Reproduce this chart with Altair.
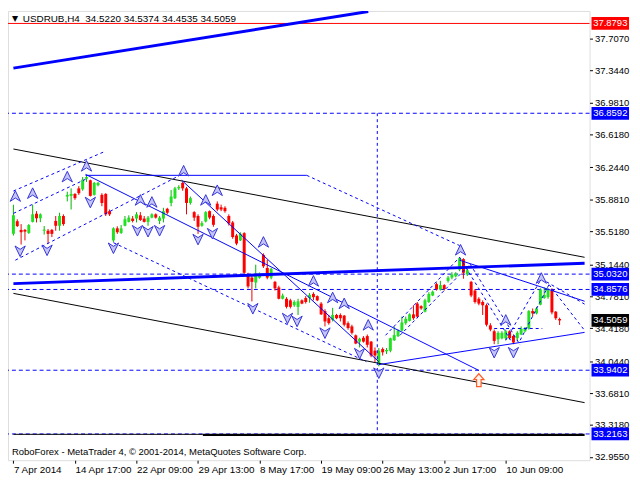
import json
import numpy as np
import pandas as pd
import altair as alt

# ---------------- data ----------------
opens = [35.49, 35.633, 35.534, 35.534, 35.500, 35.625, 35.718, 35.666, 35.525, 35.525,
         35.534, 35.636, 35.581, 35.692, 35.913, 35.921, 35.943, 36.006, 35.995, 36.116,
         36.098, 35.932, 36.042, 35.932, 35.943, 35.747, 35.415, 35.552, 35.500, 35.581,
         35.625, 35.663, 35.663, 35.700, 35.663, 35.625, 35.674, 35.711, 35.636, 35.663,
         35.774, 35.840, 35.895, 36.006, 36.068, 36.006, 35.840, 35.736, 35.692, 35.581,
         35.630, 35.747, 35.692, 35.832, 35.791, 35.785, 35.692, 35.619, 35.471, 35.415,
         35.497, 35.017, 34.992, 34.936, 34.992, 35.250, 35.102, 34.992, 34.944, 34.881,
         34.752, 34.752, 34.734, 34.678, 34.660, 34.734, 34.760, 34.760, 34.807, 34.782,
         34.697, 34.612, 34.531, 34.512, 34.568, 34.568, 34.560, 34.475, 34.438, 34.336,
         34.265, 34.309, 34.328, 34.265, 34.162, 34.007, 34.181, 34.155, 34.162, 34.280,
         34.328, 34.391, 34.475, 34.501, 34.575, 34.697, 34.668, 34.605, 34.715, 34.789,
         34.918, 34.856, 34.907, 34.955, 34.992, 35.007, 35.083, 35.202, 35.028, 34.944,
         34.845, 34.752, 34.715, 34.678, 34.450, 34.383, 34.291, 34.303, 34.303, 34.383,
         34.328, 34.303, 34.346, 34.383, 34.413, 34.612, 34.586, 34.685, 34.760, 34.770,
         34.845, 34.605, 34.5220]
highs = [35.82, 35.655, 35.600, 35.545, 35.600, 35.821, 35.747, 35.722, 35.578, 35.545,
         35.545, 35.692, 35.729, 35.711, 35.968, 36.006, 35.951, 36.031, 36.134, 36.153,
         36.105, 36.079, 36.079, 35.951, 35.951, 35.766, 35.563, 35.575, 35.589, 35.692,
         35.700, 35.692, 35.736, 35.736, 35.692, 35.692, 35.722, 35.722, 35.692, 35.785,
         35.785, 35.987, 36.023, 36.042, 36.079, 36.023, 35.913, 35.747, 35.711, 35.633,
         35.747, 35.755, 35.711, 35.858, 35.821, 35.803, 35.711, 35.636, 35.489, 35.508,
         35.508, 35.047, 35.011, 35.139, 35.050, 35.268, 35.194, 35.102, 34.955, 34.900,
         34.811, 34.770, 34.752, 34.734, 34.752, 34.745, 34.782, 34.818, 34.826, 34.790,
         34.715, 34.634, 34.568, 34.649, 34.580, 34.586, 34.568, 34.494, 34.457, 34.346,
         34.309, 34.328, 34.346, 34.273, 34.199, 34.192, 34.199, 34.192, 34.309, 34.438,
         34.402, 34.549, 34.549, 34.586, 34.678, 34.715, 34.678, 34.752, 34.826, 34.845,
         34.936, 34.955, 34.918, 35.011, 35.054, 35.054, 35.224, 35.213, 35.091, 34.955,
         34.863, 34.770, 34.734, 34.697, 34.475, 34.402, 34.383, 34.383, 34.402, 34.394,
         34.346, 34.383, 34.438, 34.431, 34.623, 34.642, 34.660, 34.870, 34.881, 34.870,
         34.870, 34.612, 34.5374]
lows = [35.47, 35.567, 35.368, 35.415, 35.489, 35.619, 35.619, 35.622, 35.481, 35.379,
        35.453, 35.525, 35.525, 35.581, 35.858, 35.766, 35.876, 35.932, 35.979, 36.079,
        35.913, 35.924, 36.030, 35.803, 35.692, 35.692, 35.398, 35.489, 35.489, 35.575,
        35.619, 35.619, 35.619, 35.636, 35.619, 35.581, 35.666, 35.663, 35.600, 35.619,
        35.711, 35.803, 35.884, 35.987, 35.979, 35.711, 35.821, 35.636, 35.489, 35.570,
        35.619, 35.655, 35.570, 35.747, 35.747, 35.729, 35.583, 35.434, 35.360, 35.408,
        35.011, 34.870, 34.723, 34.870, 34.980, 35.102, 34.973, 34.973, 34.845, 34.745,
        34.745, 34.642, 34.642, 34.660, 34.568, 34.690, 34.697, 34.707, 34.734, 34.725,
        34.568, 34.438, 34.457, 34.494, 34.520, 34.494, 34.438, 34.401, 34.346, 34.236,
        34.199, 34.254, 34.199, 34.088, 34.033, 33.985, 34.107, 34.125, 34.144, 34.273,
        34.317, 34.383, 34.457, 34.494, 34.512, 34.531, 34.627, 34.597, 34.705, 34.782,
        34.845, 34.845, 34.845, 34.936, 34.973, 34.995, 35.065, 34.980, 35.011, 34.770,
        34.697, 34.678, 34.568, 34.438, 34.383, 34.236, 34.236, 34.291, 34.280, 34.291,
        34.236, 34.273, 34.339, 34.372, 34.402, 34.549, 34.575, 34.678, 34.752, 34.752,
        34.575, 34.512, 34.4535]
closes = [35.70, 35.578, 35.508, 35.515, 35.589, 35.711, 35.666, 35.711, 35.530, 35.489,
          35.489, 35.581, 35.692, 35.600, 35.932, 35.943, 35.895, 35.951, 36.105, 36.134,
          35.921, 36.068, 36.068, 35.840, 35.711, 35.711, 35.552, 35.508, 35.552, 35.655,
          35.674, 35.636, 35.711, 35.647, 35.625, 35.674, 35.711, 35.674, 35.674, 35.747,
          35.729, 35.913, 36.006, 36.023, 36.006, 35.840, 35.895, 35.674, 35.570, 35.611,
          35.736, 35.674, 35.592, 35.766, 35.766, 35.747, 35.608, 35.453, 35.379, 35.489,
          35.047, 34.892, 34.944, 35.017, 35.039, 35.121, 34.992, 35.091, 34.870, 34.752,
          34.789, 34.660, 34.660, 34.715, 34.723, 34.697, 34.715, 34.796, 34.770, 34.734,
          34.575, 34.494, 34.475, 34.568, 34.531, 34.531, 34.457, 34.420, 34.365, 34.243,
          34.298, 34.265, 34.229, 34.107, 34.107, 34.162, 34.144, 34.170, 34.303, 34.339,
          34.391, 34.483, 34.524, 34.575, 34.531, 34.549, 34.642, 34.734, 34.807, 34.833,
          34.862, 34.907, 34.862, 34.992, 35.028, 35.039, 35.213, 35.047, 35.076, 34.789,
          34.715, 34.697, 34.678, 34.457, 34.402, 34.273, 34.365, 34.365, 34.383, 34.303,
          34.254, 34.365, 34.413, 34.420, 34.612, 34.586, 34.642, 34.856, 34.796, 34.856,
          34.597, 34.531, 34.5059]

time_tick_bars = [0, 16, 32, 48, 64, 80, 96, 112, 128]
time_tick_labels = ["7 Apr 2014", "14 Apr 17:00", "22 Apr 09:00", "29 Apr 13:00",
                    "8 May 17:00", "19 May 09:00", "26 May 13:00", "2 Jun 17:00",
                    "10 Jun 09:00"]
price_ticks = [37.7070, 37.3440, 36.9810, 36.6180, 36.2440, 35.8810, 35.5180,
               35.1440, 34.7810, 34.4180, 34.0440, 33.6810, 33.3180, 32.9550]

level_prices = [36.8592, 35.0320, 34.8576, 33.9402, 33.2163]
alert_price = 37.8793
last_price = 34.5059

# trend lines: (bar1, price1, bar2, price2)
thick_blue_lines = [(0, 37.372, 92.25, 38.015),
                    (0, 34.924, 148.5, 35.156)]
thin_blue_lines = [(18.75, 36.154, 76.25, 36.154),
                   (18.75, 36.165, 121, 33.938),
                   (43.75, 36.098, 95, 34.037),
                   (95, 34.004, 148.5, 34.370),
                   (116, 35.190, 148.5, 34.724)]
dashed_blue_lines = [(0, 35.976, 23.5, 36.420),
                     (0, 35.722, 18.75, 36.109),
                     (0.5, 35.190, 43.75, 36.165),
                     (26, 35.389, 91.75, 34.037),
                     (76.25, 36.154, 116, 35.356),
                     (96.75, 34.337, 116, 35.223),
                     (100.5, 34.337, 118.75, 35.145),
                     (116, 35.223, 129.25, 34.281),
                     (118.75, 35.145, 131.75, 34.226),
                     (128, 34.281, 137.25, 34.979),
                     (131.75, 34.281, 139.25, 34.913),
                     (137.25, 34.979, 148.5, 34.691),
                     (139.25, 34.913, 148.5, 34.392),
                     (125, 34.414, 137.5, 34.414),
                     (94.6, 36.8592, 94.6, 33.2163)]
black_lines = [(0, 36.453, 148.5, 35.223),
               (0, 34.813, 148.5, 33.572),
               (0, 33.212, 49.25, 33.212)]
thick_black_lines = [(49.25, 33.206, 148.5, 33.206)]

fractal_up_bars = [0.5, 5, 14, 19, 33, 36, 44.25, 50, 53, 65, 78, 83, 86, 92.25, 116.25, 128, 137.25]
fractal_up_prices = [35.910, 35.943, 36.131, 36.253, 35.866, 35.843, 36.198, 35.866, 35.976,
                     35.389, 34.946, 34.758, 34.691, 34.447, 35.300, 34.503, 34.979]
fractal_down_bars = [1.75, 8.75, 20, 26, 32.25, 35, 38, 48, 51.75, 62.25, 71.25, 73.75, 81,
                     90, 95, 125, 130]
fractal_down_prices = [35.300, 35.311, 35.854, 35.334, 35.533, 35.522, 35.533, 35.433, 35.500,
                       34.647, 34.536, 34.503, 34.370, 34.137, 33.915, 34.148, 34.148]
signal_bars = [121]
signal_prices = [33.827]

tag_prices = [alert_price, 36.8592, 35.0320, 34.8576, last_price, 33.9402, 33.2163]
tag_kinds = ["alert", "level", "level", "level", "last", "level", "level"]

header_text = "USDRUB,H4\u00a0\u00a034.5220 34.5374 34.4535 34.5059"
footer_text = "RoboForex - MetaTrader 4, \u00a9 2001-2014, MetaQuotes Software Corp."

# ---------------- styling ----------------
FONT = "Liberation Sans"
BLUE = "#0000ff"
KIND_COLOR = {"alert": "#ff0000", "level": "#0000ff", "last": "#000000"}

X_SCALE = alt.Scale(domain=[-0.125, 148.5], nice=False, zero=False)
Y_SCALE = alt.Scale(domain=[32.918, 38.021], nice=False, zero=False)
label_expr = json.dumps(time_tick_labels) + "[round(datum.value / 16)]"
X_AXIS = alt.Axis(values=time_tick_bars, labelExpr=label_expr, labelAlign="left",
                  labelFont=FONT, labelFontSize=10, labelColor="black",
                  tickColor="black", tickSize=3, labelPadding=1, domain=False,
                  grid=False, title=None, labelOverlap=False, labelFlush=False)
Y_AXIS = alt.Axis(orient="right", values=price_ticks, format=".4f", labelFont=FONT,
                  labelFontSize=9.6, labelColor="black", tickColor="black", tickSize=3,
                  labelPadding=2, domain=False, grid=False, title=None,
                  labelOverlap=False, labelFlush=False, labelBaseline="middle")


def X(f):
    return alt.X(f"{f}:Q", scale=X_SCALE, axis=X_AXIS)


def Y(f):
    return alt.Y(f"{f}:Q", scale=Y_SCALE, axis=Y_AXIS)


# candles
cdf = pd.DataFrame({"i": range(len(opens)), "o": opens, "h": highs, "l": lows, "c": closes})
up = cdf["c"] >= cdf["o"]
cdf["top"] = cdf[["o", "c"]].max(axis=1)
cdf["bot"] = cdf[["o", "c"]].min(axis=1)
thin = (cdf["top"] - cdf["bot"]) < 0.012
cdf.loc[thin, "top"] = cdf.loc[thin, "bot"] + 0.012
cdf["wick"] = np.where(up, "#00b400", "#e80000")
cdf["body"] = np.where(up, "#22e022", "#ff0000")

wicks = alt.Chart(cdf).mark_rule(strokeWidth=1).encode(
    x=X("i"), y=Y("l"), y2=alt.Y2("h"), color=alt.Color("wick:N", scale=None))
bodies = alt.Chart(cdf).mark_bar(size=3).encode(
    x=X("i"), y=Y("bot"), y2=alt.Y2("top"), color=alt.Color("body:N", scale=None))


def seg_layer(rows, **mark):
    df = pd.DataFrame(rows, columns=["x1", "p1", "x2", "p2"])
    return alt.Chart(df).mark_rule(clip=True, **mark).encode(
        x=X("x1"), x2=alt.X2("x2"), y=Y("p1"), y2=alt.Y2("p2"))


levels = alt.Chart(pd.DataFrame({"p": level_prices})).mark_rule(
    color=BLUE, strokeDash=[4, 3], strokeWidth=1).encode(y=Y("p"))
alert = alt.Chart(pd.DataFrame({"p": [alert_price]})).mark_rule(
    color="#ff0000", strokeWidth=1).encode(y=Y("p"))

UP_PATH = "M0,-1L0.85,0.75L0,0.2L-0.85,0.75Z"
DOWN_PATH = "M0,1L0.85,-0.75L0,-0.2L-0.85,-0.75Z"
ARROW_PATH = "M0,-1L0.8,-0.1L0.35,-0.1L0.35,1L-0.35,1L-0.35,-0.1L-0.8,-0.1Z"
RECT_PATH = "M-1,-0.34L1,-0.34L1,0.34L-1,0.34Z"

frac_up = alt.Chart(pd.DataFrame({"b": fractal_up_bars, "p": fractal_up_prices})).mark_point(
    shape=UP_PATH, size=150, filled=True, fill="#c4c4f8", stroke="#3434d8",
    strokeWidth=1, opacity=1).encode(x=X("b"), y=Y("p"))
frac_down = alt.Chart(pd.DataFrame({"b": fractal_down_bars, "p": fractal_down_prices})).mark_point(
    shape=DOWN_PATH, size=150, filled=True, fill="#c4c4f8", stroke="#3434d8",
    strokeWidth=1, opacity=1).encode(x=X("b"), y=Y("p"))
signal = alt.Chart(pd.DataFrame({"b": signal_bars, "p": signal_prices})).mark_point(
    shape=ARROW_PATH, size=170, filled=True, fill="#fff4ee", stroke="#ff5a28",
    strokeWidth=1.2, opacity=1).encode(x=X("b"), y=Y("p"))

tags_df = pd.DataFrame({"p": tag_prices, "kind": tag_kinds})
tags_df["col"] = tags_df["kind"].map(KIND_COLOR)
tags_df["t"] = tags_df["p"].map(lambda v: f"{v:.4f}")
tag_boxes = alt.Chart(tags_df).mark_point(
    shape=RECT_PATH, size=1444, filled=True, opacity=1, strokeWidth=0).encode(
    x=alt.value(610), y=Y("p"), color=alt.Color("col:N", scale=None))
tag_text = alt.Chart(tags_df).mark_text(
    font=FONT, fontSize=9.6, color="white", align="center", baseline="middle").encode(
    x=alt.value(610), y=Y("p"), text="t:N")

header_tri = alt.Chart(pd.DataFrame({"t": ["\u25bc"]})).mark_text(
    font="DejaVu Sans", fontSize=8, color="black", align="center", baseline="middle").encode(
    x=alt.value(7), y=alt.value(8), text="t:N")
header = alt.Chart(pd.DataFrame({"t": [header_text]})).mark_text(
    font=FONT, fontSize=10, color="black", align="left", baseline="middle").encode(
    x=alt.value(15), y=alt.value(8), text="t:N")
footer = alt.Chart(pd.DataFrame({"t": [footer_text]})).mark_text(
    font=FONT, fontSize=9.6, color="black", align="left", baseline="middle").encode(
    x=alt.value(4), y=alt.value(447), text="t:N")

chart = alt.layer(
    alert,
    levels,
    wicks,
    bodies,
    seg_layer(black_lines, color="black", strokeWidth=1),
    seg_layer(thick_black_lines, color="black", strokeWidth=2.5),
    seg_layer(dashed_blue_lines, color=BLUE, strokeWidth=1, strokeDash=[3, 3]),
    seg_layer(thin_blue_lines, color=BLUE, strokeWidth=1),
    seg_layer(thick_blue_lines, color=BLUE, strokeWidth=3),
    frac_up,
    frac_down,
    signal,
    tag_boxes,
    tag_text,
    header_tri,
    header,
    footer,
).properties(
    width=589,
    height=455,
    autosize=alt.AutoSizeParams(type="none"),
    padding={"left": 0, "top": 0, "right": 43, "bottom": 15},
).configure_view(
    stroke="black", strokeWidth=1
).configure(background="white")

chart.save("out.html", embed_options={"renderer": "svg", "actions": False})
